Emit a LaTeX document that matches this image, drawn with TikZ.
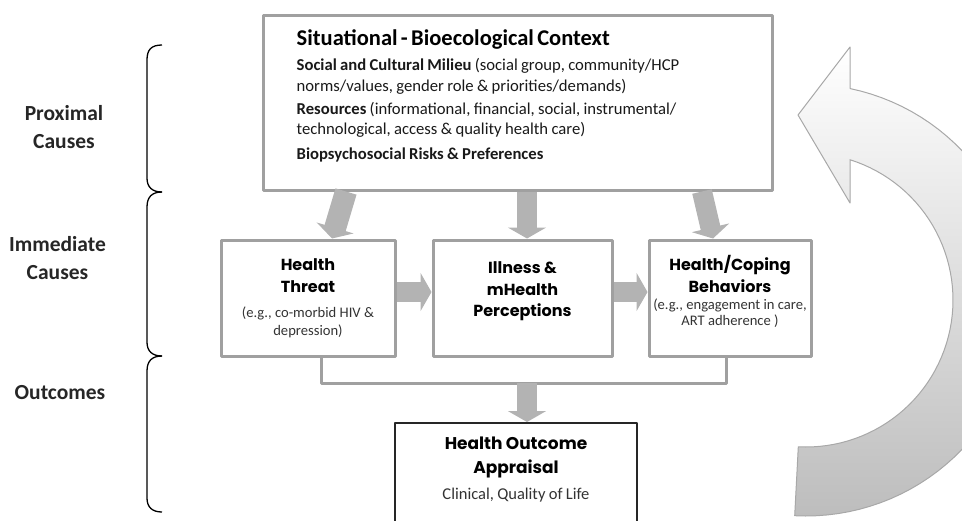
\documentclass[tikz,border=0pt]{standalone}
\usepackage{fontspec}
\setmainfont{Carlito}
\newfontfamily\gothic{Poppins}
\usetikzlibrary{positioning,arrows.meta}

\definecolor{boxgray}{HTML}{A0A0A0}
\definecolor{arrowgray}{HTML}{B3B3B3}
\definecolor{ringgray}{HTML}{BDBDBD}
\definecolor{ringline}{HTML}{A8A8A8}

\newcommand{\boxtitle}{\gothic\bfseries\fontsize{16}{22}\selectfont}
\newcommand{\boxsmall}{\normalfont\fontsize{14.6}{18}\selectfont\color{black!80}}

\tikzset{
  greybox/.style={draw=boxgray, line width=3pt, minimum width=#1, minimum height=116pt, inner sep=0pt},
  outbox/.style={draw=black!85, line width=2pt, minimum width=242pt, minimum height=117pt, inner sep=0pt},
  boxtext/.style={inner sep=0pt, text width=#1, align=center},
  link/.style={draw=boxgray, line width=3pt},
  fatarrow/.style={draw=arrowgray, line width=#1, -{Triangle[width=38pt, length=11pt]}},
  fatarrow/.default=20pt,
  sidebrace/.style={draw=black, line width=1.3pt},
  sidelabel/.style={font=\bfseries\fontsize{21.5}{28}\selectfont, align=center, text=black!85},
}

\begin{document}
\begin{tikzpicture}[x=1pt, y=-1pt, line join=round]
  \useasboundingbox (0,0) rectangle (962,520);
  \clip (0,0) rectangle (962,520);

  % feedback arrow on the right
  \draw[draw=ringline, line width=1pt, top color=white, middle color=white, bottom color=ringgray]
    (798.3,446.8) -- (794.7,515.7)
    -- plot[domain=93:-78.2, samples=60] ({806+216*cos(\x)}, {300+216*sin(\x)})
    -- (850,47) -- (798,115) -- (850,203) -- (850,159.7)
    -- plot[domain=-72.6:93, samples=60] ({806+147*cos(\x)}, {300+147*sin(\x)})
    -- cycle;

  % context box
  \node[greybox=509pt, minimum height=175pt] (ctx) at (517.5,102.5) {};
  \node[inner sep=0pt, anchor=north west, text width=470pt, align=left]
    (ctxT) at ([shift={(35pt,-15.5pt)}]ctx.north west)
    {{\fontsize{22.5}{26}\selectfont\bfseries Situational - Bioecological Context\par}
     \vspace{5pt}
     \fontsize{16.65}{20.5}\selectfont\color{black!90}
     \textbf{Social and Cultural Milieu} (social group, community/HCP\\
     norms/values, gender role \& priorities/demands)\\[2.5pt]
     \textbf{Resources} (informational, financial, social, instrumental/\\
     technological, access \& quality health care)\\[4.5pt]
     \textbf{Biopsychosocial Risks \& Preferences}\par};

  % immediate causes
  \node[greybox=174pt] (threat) at (308,298) {};
  \node[greybox=179pt] (percep) at (522.5,298) {};
  \node[greybox=162pt] (behav) at (730,298) {};

  \node[boxtext=170pt, below=20pt of threat.north] (threatT)
    {{\boxtitle Health\\Threat\par}\vspace{7pt}
     \boxsmall (e.g., co-morbid HIV \&\\depression)\par};
  \node[boxtext=175pt, below=23pt of percep.north] (percepT)
    {\boxtitle\fontsize{16}{21.5}\selectfont Illness \&\\mHealth\\Perceptions\par};
  \node[boxtext=162pt, below=17pt of behav.north] (behavT)
    {{\boxtitle Health/Coping\\Behaviors\par}\vspace{0pt}
     \boxsmall\fontsize{14.6}{16.5}\selectfont (e.g., engagement in care,\\ART adherence )\par};

  % outcome box
  \node[outbox] (outcome) at (516,481.5) {};
  \node[boxtext=236pt, below=15pt of outcome.north] (outcomeT)
    {{\boxtitle\fontsize{17}{24}\selectfont Health Outcome\\Appraisal\par}\vspace{8pt}
     \fontsize{16.5}{18}\selectfont\color{black!80} Clinical, Quality of Life\par};

  % arrows from the context box
  \draw[fatarrow=22pt] ([xshift=-171.5pt]ctx.south) -- ([xshift=24pt]threat.north);
  \draw[fatarrow] ([xshift=9.5pt]ctx.south) -- ([xshift=4.5pt]percep.north);
  \draw[fatarrow] ([xshift=184.5pt]ctx.south) -- ([xshift=-17pt]behav.north);

  % arrows between the boxes
  \draw[fatarrow] ([yshift=6pt]threat.east) -- ([yshift=6pt]percep.west);
  \draw[fatarrow] ([yshift=6pt]percep.east) -- ([yshift=6pt]behav.west);

  % to the outcome
  \coordinate (join) at (527,383);
  \draw[link] ([xshift=13pt]threat.south) |- (join) -| ([xshift=-4pt]behav.south);
  \draw[fatarrow] (join) -- ([xshift=11pt]outcome.north);

  % braces on the left
  \draw[sidebrace] (162,45) .. controls (151,45) and (147,50) .. (147,60)
    -- (147,178) .. controls (147,187) and (152,192) .. (162,192);
  \draw[sidebrace] (162,192) .. controls (152,192) and (147,197) .. (147,207)
    -- (147,342) .. controls (147,351) and (152,356) .. (162,356);
  \draw[sidebrace] (162,356) .. controls (152,356) and (147,361) .. (147,371)
    -- (147,498) .. controls (147,507) and (152,512) .. (162,512);

  \node[sidelabel] (proximal) at (64,127) {Proximal\\Causes};
  \node[sidelabel] (immediate) at (57.5,258) {Immediate\\Causes};
  \node[sidelabel] (outcomes) at (60,393) {Outcomes};
\end{tikzpicture}
\end{document}
